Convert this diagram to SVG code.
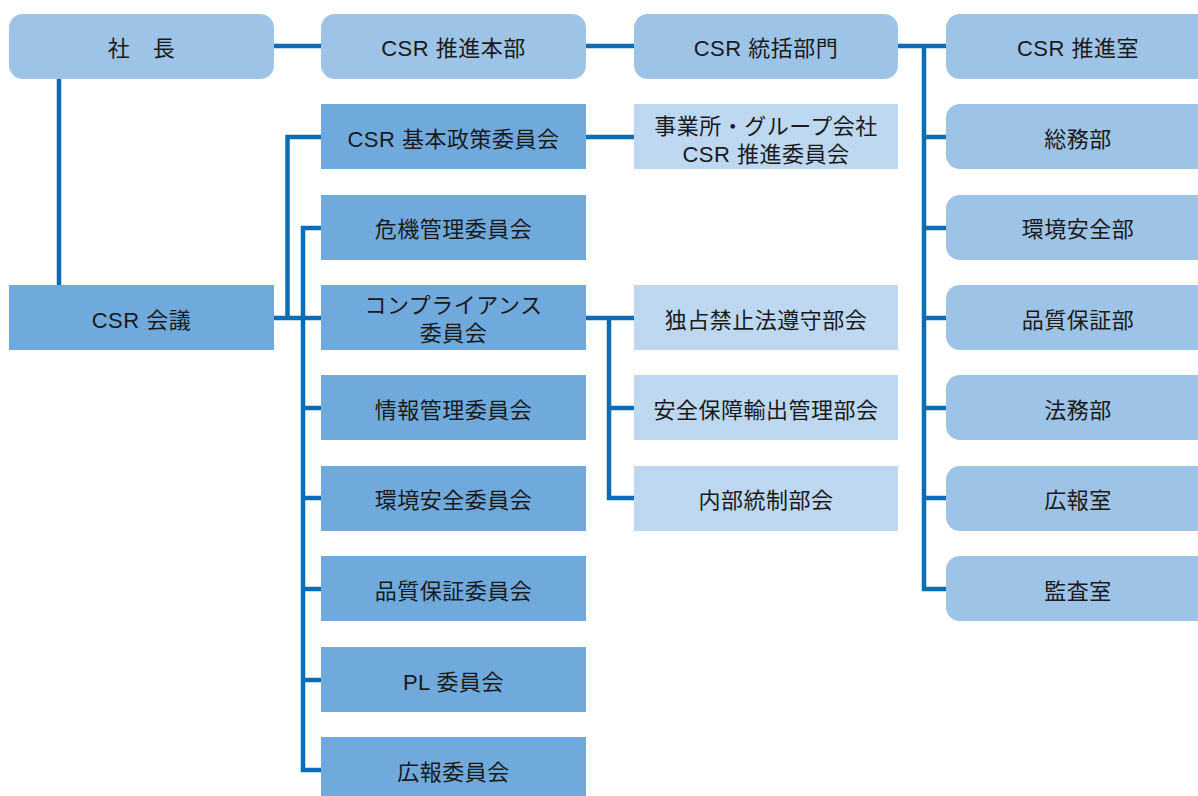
<svg xmlns="http://www.w3.org/2000/svg" width="1198" height="796" viewBox="0 0 1198 796">
<style>
.r{fill:#9dc3e6}
.m{fill:#70aadc}
.l{fill:#bdd8f0}
text{font-family:"Liberation Sans","Noto Sans CJK JP",sans-serif;font-size:22px;letter-spacing:0.5px;fill:#1a1a1a;text-anchor:middle}
.c{stroke:#0b6db5;stroke-width:4.5;fill:none}
</style>
<rect width="1198" height="796" fill="#fff"/>
<g id="connectors" class="c">
<path d="M274 46H321M586 46H634M898 46H946"/>
<path d="M59 79V285"/>
<path d="M924 46V589H946M924 137H946M924 228H946M924 318H946M924 408H946M924 498H946"/>
<path d="M274 318H321"/>
<path d="M321 137H287.5V318"/>
<path d="M321 228H303V770H321M303 408H321M303 498H321M303 589H321M303 680H321"/>
<path d="M586 137H634"/>
<path d="M586 318H634M609 318V498H634M609 408H634"/>
</g>
<g id="n-shacho"><rect class="r" x="9" y="14" width="265" height="65" rx="14"/><text x="141.5" y="56">社　長</text></g>
<g id="n-honbu"><rect class="r" x="321" y="14" width="265" height="65" rx="14"/><text x="453.5" y="56">CSR 推進本部</text></g>
<g id="n-tokatsu"><rect class="r" x="634" y="14" width="264" height="65" rx="14"/><text x="766" y="56">CSR 統括部門</text></g>
<g id="n-suishin"><rect class="r" x="946" y="14" width="265" height="65" rx="14"/><text x="1078" y="56">CSR 推進室</text></g>
<g id="n-somu"><rect class="r" x="946" y="104" width="265" height="65" rx="14"/><text x="1078" y="147">総務部</text></g>
<g id="n-kankyobu"><rect class="r" x="946" y="195" width="265" height="65" rx="14"/><text x="1078" y="237">環境安全部</text></g>
<g id="n-hinshitsubu"><rect class="r" x="946" y="285" width="265" height="65" rx="14"/><text x="1078" y="328">品質保証部</text></g>
<g id="n-homu"><rect class="r" x="946" y="375" width="265" height="65" rx="14"/><text x="1078" y="418">法務部</text></g>
<g id="n-kohoshitsu"><rect class="r" x="946" y="466" width="265" height="65" rx="14"/><text x="1078" y="508">広報室</text></g>
<g id="n-kansa"><rect class="r" x="946" y="556" width="265" height="65" rx="14"/><text x="1078" y="599">監査室</text></g>
<g id="n-kaigi"><rect class="m" x="9" y="285" width="265" height="65"/><text x="141.5" y="328">CSR 会議</text></g>
<g id="n-kihon"><rect class="m" x="321" y="104" width="265" height="65"/><text x="453.5" y="147">CSR 基本政策委員会</text></g>
<g id="n-kiki"><rect class="m" x="321" y="195" width="265" height="65"/><text x="453.5" y="237">危機管理委員会</text></g>
<g id="n-compliance"><rect class="m" x="321" y="285" width="265" height="65"/><text x="453.5" y="313">コンプライアンス</text><text x="453.5" y="341">委員会</text></g>
<g id="n-joho"><rect class="m" x="321" y="375" width="265" height="65"/><text x="453.5" y="418">情報管理委員会</text></g>
<g id="n-kankyo"><rect class="m" x="321" y="466" width="265" height="65"/><text x="453.5" y="508">環境安全委員会</text></g>
<g id="n-hinshitsu"><rect class="m" x="321" y="556" width="265" height="65"/><text x="453.5" y="599">品質保証委員会</text></g>
<g id="n-pl"><rect class="m" x="321" y="647" width="265" height="65"/><text x="453.5" y="690">PL 委員会</text></g>
<g id="n-koho"><rect class="m" x="321" y="737" width="265" height="65"/><text x="453.5" y="780">広報委員会</text></g>
<g id="n-jigyosho"><rect class="l" x="634" y="104" width="264" height="65"/><text x="766" y="134">事業所・グループ会社</text><text x="766" y="162">CSR 推進委員会</text></g>
<g id="n-dokusen"><rect class="l" x="634" y="285" width="264" height="65"/><text x="766" y="328">独占禁止法遵守部会</text></g>
<g id="n-anzen"><rect class="l" x="634" y="375" width="264" height="65"/><text x="766" y="418">安全保障輸出管理部会</text></g>
<g id="n-naibu"><rect class="l" x="634" y="466" width="264" height="65"/><text x="766" y="508">内部統制部会</text></g>
</svg>
